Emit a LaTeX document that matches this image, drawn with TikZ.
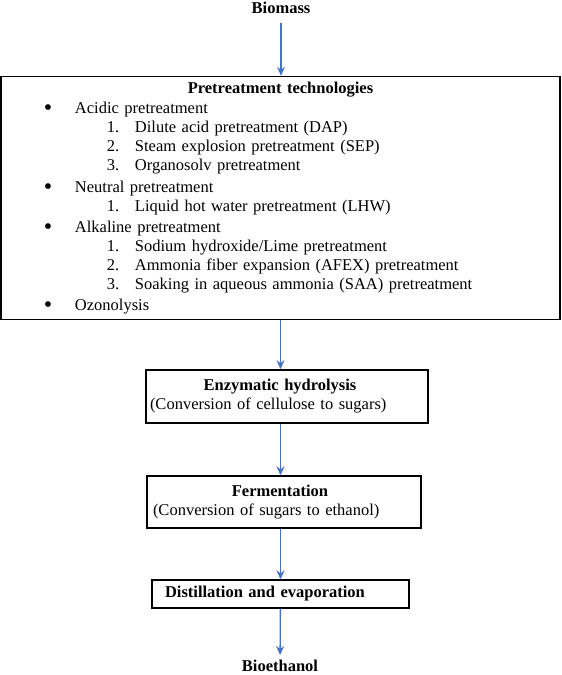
\documentclass[tikz,border=0pt]{standalone}
\usepackage{fontspec}
\setmainfont{Liberation Serif}
\usepackage{tikz}
\usetikzlibrary{positioning,arrows.meta}
\definecolor{flowblue}{HTML}{4472C4}
\newcommand{\bigdot}{\raisebox{-2bp}{\fontsize{24bp}{24bp}\selectfont\textbullet}}
\newcommand{\bitem}[1]{\hspace*{43bp}\makebox[31bp][l]{\bigdot}#1}
\newcommand{\nitem}[2]{\hspace*{106bp}\makebox[28bp][l]{#1.}#2}

\begin{document}
\begin{tikzpicture}[x=1bp, y=1bp,
font=\fontsize{16.5bp}{19bp}\selectfont,
term/.style={font=\fontsize{16.5bp}{19bp}\selectfont\bfseries, inner sep=5bp},
box/.style={draw, line width=1.4bp, align=left, inner ysep=0pt},
arr/.style={-{Stealth[length=9bp, width=8bp, inset=3bp]}, draw=flowblue, line width=1.3bp}
]
\useasboundingbox (0,0) rectangle (562,-675);
\node[term] (biomass) at (281,-8) {Biomass};
\node[box, text width=559bp, inner xsep=0pt, minimum height=243bp] (pretreat) at (280.5,-198) {%
\hfill\textbf{Pretreatment technologies}\hfill\null\\[1bp]
\bitem{Acidic pretreatment}\\
\nitem{1}{Dilute acid pretreatment (DAP)}\\
\nitem{2}{Steam explosion pretreatment (SEP)}\\
\nitem{3}{Organosolv pretreatment}\\[3bp]
\bitem{Neutral pretreatment}\\
\nitem{1}{Liquid hot water pretreatment (LHW)}\\[2bp]
\bitem{Alkaline pretreatment}\\
\nitem{1}{Sodium hydroxide/Lime pretreatment}\\
\nitem{2}{Ammonia fiber expansion (AFEX) pretreatment}\\
\nitem{3}{Soaking in aqueous ammonia (SAA) pretreatment}\\[2bp]
\bitem{Ozonolysis}};
\node[box, line width=1.8bp, text width=274bp, inner xsep=4bp, minimum height=53bp] (enzyme) at (287,-396.5) {%
\makebox[260bp]{\bfseries Enzymatic hydrolysis}\\
(Conversion of cellulose to sugars)};
\node[box, text width=262bp, inner xsep=6bp, minimum height=52bp] (ferment) at (284,-502) {%
\makebox[254bp]{\bfseries Fermentation}\\
(Conversion of sugars to ethanol)};
\node[box, text width=231bp, inner xsep=13bp, minimum height=28bp] (distill) at (280.5,-594) {\textbf{Distillation and evaporation}};
\node[term] (bioethanol) at (280,-666) {Bioethanol};
% blue arrows down the chain
\draw[arr, shorten <=4bp] (biomass) -- (biomass |- pretreat.north);
\draw[arr] (pretreat.south -| distill) -- (enzyme.north -| distill);
\draw[arr] (enzyme.south -| distill) -- (ferment.north -| distill);
\draw[arr] (ferment.south -| distill) -- (distill.north);
\draw[arr] (distill) -- (bioethanol);
\end{tikzpicture}
\end{document}
